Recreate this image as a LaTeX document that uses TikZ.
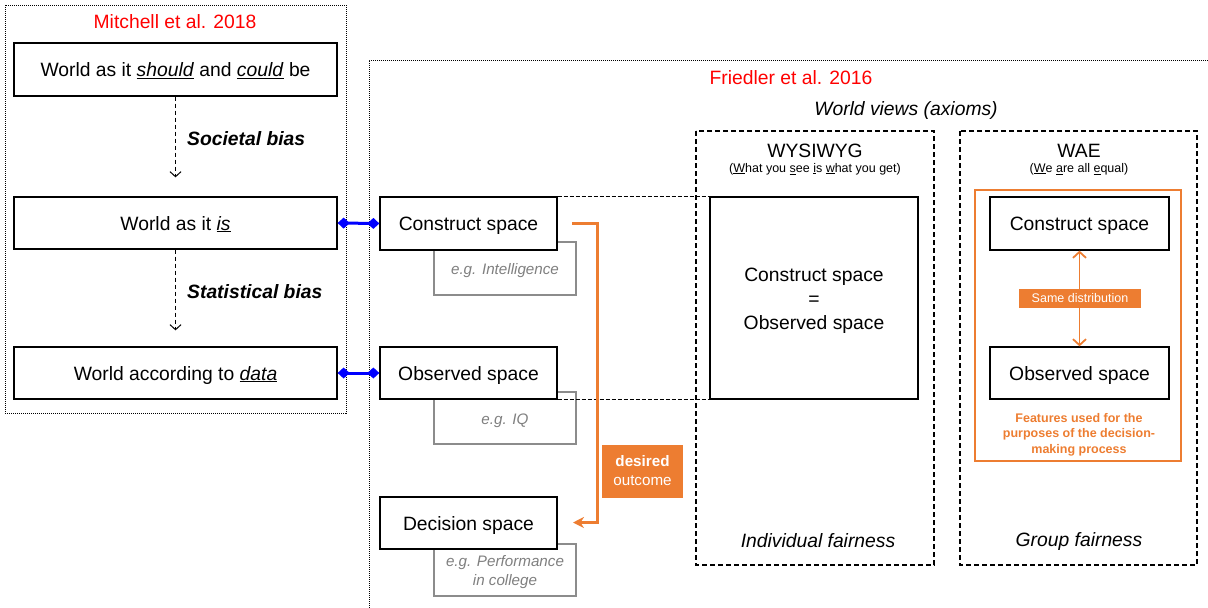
\documentclass[tikz,border=0pt]{standalone}
\usepackage{fontspec}
\setmainfont{Liberation Sans}
\usetikzlibrary{arrows.meta,calc}
\definecolor{orng}{HTML}{ED7D31}
\definecolor{gtext}{HTML}{808080}
\definecolor{gbord}{HTML}{8C8C8C}
\definecolor{bconn}{HTML}{0000FF}
\newcommand{\fsbig}{\fontsize{19.3pt}{23pt}\selectfont}
\newcommand{\fsmid}{\fontsize{15.2pt}{19pt}\selectfont}
\newcommand{\fssmall}{\fontsize{12.5pt}{15.5pt}\selectfont}
\begin{document}
\begin{tikzpicture}[x=1pt,y=-1pt,
  mainbox/.style={draw=black,line width=1.3pt,fill=white,inner sep=0pt,font=\fsbig,text height=15pt,text depth=1pt},
  emptybox/.style={draw=black,line width=1.3pt,fill=white,inner sep=0pt},
  graybox/.style={draw=gbord,line width=1.3pt,fill=white,inner sep=0pt,text=gtext,font=\fsmid\itshape,text height=12.5pt,text depth=0.5pt},
  dotbox/.style={line width=1pt,dash pattern=on 1pt off 1pt},
  dashbox/.style={draw=black,line width=1.3pt,dash pattern=on 5pt off 3pt},
  plaintext/.style={inner sep=0pt,font=\fsbig,align=center},
  biasarrow/.style={line width=1pt,dash pattern=on 4pt off 3pt,-{Straight Barb[length=5pt,width=11pt,line width=1pt]}},
  blueconn/.style={bconn,line width=3pt,{Diamond[length=12pt,width=11pt]}-{Diamond[length=12pt,width=11pt]}},
  orangearrow/.style={orng,line width=3pt,-{Stealth[length=11pt,width=11pt]}},
  orangedouble/.style={orng,line width=1.8pt,{Straight Barb[length=6pt,width=13pt,line width=1.8pt]}-{Straight Barb[length=6pt,width=13pt,line width=1.8pt]}},
  orangelabel/.style={fill=orng,text=white,inner sep=0pt,align=center}
]
\useasboundingbox (0,0) rectangle (1208,608);

% ---------- Mitchell frame ----------
\draw[dotbox] (5,5) rectangle (346,413);
\node[plaintext,text=red] (mtitle) at (175,22) {Mitchell et al. 2018};
\node[mainbox,minimum width=323pt,minimum height=53pt] (w1) at (175.5,69.5)
  {World as it \underline{\textit{should}} and \underline{\textit{could}} be};
\node[mainbox,minimum width=323pt,minimum height=52pt] (w2) at (175.5,223)
  {World as it \underline{\textit{is}}};
\node[mainbox,minimum width=323pt,minimum height=52pt] (w3) at (175.5,373)
  {World according to \underline{\textit{data}}};
\draw[biasarrow,shorten >=19pt] (w1.south) -- (w2.north);
\draw[biasarrow,shorten >=16pt] (w2.south) -- (w3.north);
\node[plaintext,anchor=west,font=\fsbig\bfseries\itshape] (sb) at (187,139) {Societal bias};
\node[plaintext,anchor=west,font=\fsbig\bfseries\itshape] (stb) at (187,292) {Statistical bias};

% ---------- Friedler frame ----------
\draw[dotbox] (1210,60) -- (369,60) -- (369,610);
\node[plaintext,text=red] (ftitle) at (791,78) {Friedler et al. 2016};
\node[plaintext,font=\fsbig\itshape] (wv) at (906,111) {World views (axioms)};

% gray example boxes (behind)
\node[graybox,minimum width=142pt,minimum height=53pt] (g1) at (505,268.5) {e.g. Intelligence};
\node[graybox,minimum width=142pt,minimum height=52pt] (g2) at (505,418) {e.g. IQ};
\node[emptybox,draw=gbord,minimum width=142pt,minimum height=52pt] (g3) at (505,570) {};
\node[inner sep=0pt,text=gtext,font=\fsmid\itshape,align=center] (g3t) at (505,572)
  {e.g. Performance\\[-0.5pt]in college};

% WYSIWYG frame
\draw[dashbox] (696,131) rectangle (934,565);
\node[plaintext] (wys) at (815,151) {WYSIWYG};
\node[plaintext,font=\fssmall] (wyss) at (815,169)
  {(\underline{W}hat you \underline{s}ee \underline{i}s \underline{w}hat you get)};
\node[emptybox,minimum width=208pt,minimum height=202pt] (ws) at (814,298) {};
\node[inner sep=0pt,font=\fontsize{19.3pt}{24pt}\selectfont,align=center] (wst) at (814,300.5)
  {Construct space\\=\\Observed space};
\node[plaintext,font=\fsbig\itshape] (indf) at (818,540.5) {Individual fairness};

% main boxes
\node[mainbox,minimum width=177pt,minimum height=53pt] (cs) at (468.5,223.5) {Construct space};
\node[mainbox,minimum width=177pt,minimum height=52pt] (os) at (468.5,373) {Observed space};
\node[mainbox,minimum width=177pt,minimum height=52pt] (ds) at (468.5,523) {Decision space};

% dashed link lines
\draw[line width=1pt,dash pattern=on 4pt off 2pt] (cs.north east) -- (ws.north west);
\draw[line width=1pt,dash pattern=on 4pt off 2pt] (os.south east) -- (ws.south west);

% blue connectors
\draw[blueconn] (w2.east) -- (cs.west);
\draw[blueconn] (w3.east) -- (os.west);

% orange desired-outcome arrow
\coordinate (oa) at (572,223.5);
\coordinate (ob) at (573,522.5);
\draw[orangearrow] (oa) -- (597,223.5) |- (ob);
\node[orangelabel,minimum width=81pt,minimum height=53pt,font=\fsmid] (des) at (642.5,471)
  {\textbf{desired}\\outcome};

% WAE frame
\draw[dashbox] (960,131) rectangle (1197,565);
\node[plaintext] (wae) at (1079,151) {WAE};
\node[plaintext,font=\fssmall] (waes) at (1079,169)
  {(\underline{W}e \underline{a}re all \underline{e}qual)};
\draw[orng,line width=1.3pt] (975,190) rectangle (1181,461);
\node[mainbox,minimum width=179pt,minimum height=53pt] (cs2) at (1079.5,223.5) {Construct space};
\node[mainbox,minimum width=179pt,minimum height=52pt] (os2) at (1079.5,373) {Observed space};
\draw[orangedouble] (cs2.south) -- (os2.north);
\node[orangelabel,minimum width=122pt,minimum height=19pt,font=\fssmall] (same) at (1080,298.5) {Same distribution};
\node[inner sep=0pt,text=orng,font=\fssmall\bfseries,align=center] (feat) at (1079,434.5)
  {Features used for the\\purposes of the decision-\\making process};
\node[plaintext,font=\fsbig\itshape] (grpf) at (1079,541.5) {Group fairness};
\end{tikzpicture}
\end{document}
